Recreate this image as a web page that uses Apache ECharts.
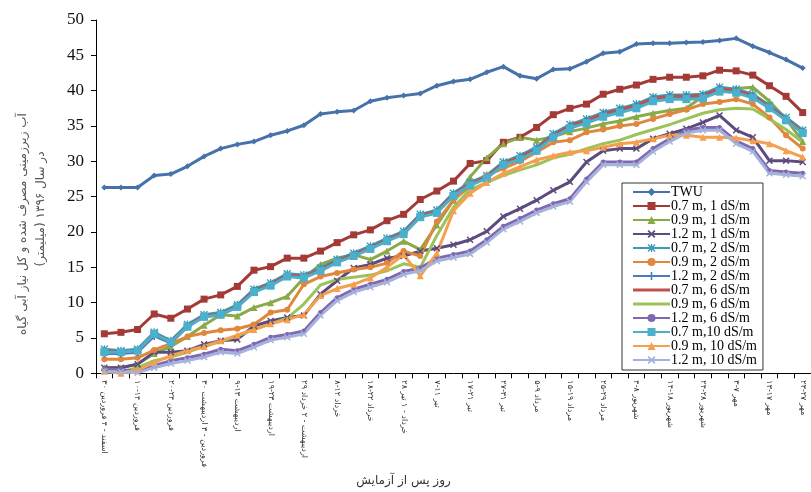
<!DOCTYPE html>
<html><head><meta charset="utf-8">
<script src="https://cdn.jsdelivr.net/npm/echarts@6/dist/echarts.min.js"></script>
<style>html,body{margin:0;padding:0;background:#fff}#c{width:811px;height:492px}</style>
</head><body><div id="c"></div>
<script>
// Period labels (every second 5-day period is labelled)
const periodLabels = [
 "۳۰ اسفند - ۴ فروردین","۱۰-۱۴ فروردین","۲۰-۲۴ فروردین","۳۰ فروردین - ۳ اردیبهشت",
 "۹-۱۳ اردیبهشت","۱۹-۲۳ اردیبهشت","۲۹ اردیبهشت - ۲ خرداد","۸-۱۲ خرداد","۱۸-۲۲ خرداد",
 "۲۸ خرداد - ۱ تیر","۷-۱۱ تیر","۱۷-۲۱ تیر","۲۷-۳۱ تیر","۵-۹ مرداد","۱۵-۱۹ مرداد",
 "۲۵-۲۹ مرداد","۴-۸ شهریور","۱۴-۱۸ شهریور","۲۴-۲۸ شهریور","۳-۷ مهر","۱۳-۱۷ مهر","۲۳-۲۷ مهر"
];
const periods = ["1","2","3","4","5","6","7","8","9","10","11","12","13","14","15","16","17","18","19","20","21","22","23","24","25","26","27","28","29","30","31","32","33","34","35","36","37","38","39","40","41","42","43"];

const yTitle1 = 'آب زیرزمینی مصرف شده و کل نیاز آبی گیاه';
const yTitle2 = '(میلیمتر) در سال ۱۳۹۶';
const xTitle = 'روز پس از آزمایش';

const seriesNames = ["TWU","0.7 m, 1 dS/m","0.9 m, 1 dS/m","1.2 m, 1 dS/m","0.7 m, 2 dS/m","0.9 m, 2 dS/m","1.2 m, 2 dS/m","0.7 m, 6 dS/m","0.9 m, 6 dS/m","1.2 m, 6 dS/m","0.7 m,10 dS/m","0.9 m, 10 dS/m","1.2 m, 10 dS/m"];

const twu   = [26.3,26.3,26.3,28.0,28.2,29.3,30.7,31.8,32.4,32.8,33.7,34.3,35.1,36.7,37.0,37.2,38.5,39.0,39.3,39.6,40.7,41.3,41.6,42.6,43.4,42.1,41.7,43.0,43.1,44.1,45.3,45.5,46.6,46.7,46.7,46.8,46.9,47.1,47.4,46.3,45.4,44.4,43.2];
const m07s1 = [5.6,5.8,6.2,8.4,7.8,9.1,10.5,11.1,12.3,14.6,15.1,16.3,16.3,17.3,18.5,19.6,20.3,21.6,22.5,24.6,25.8,27.2,29.7,30.1,32.7,33.4,34.8,36.6,37.5,38.1,39.5,40.2,40.8,41.6,41.9,41.9,42.1,42.9,42.8,42.2,40.7,39.2,36.9];
const m09s1 = [0.8,0.8,1.3,2.8,3.8,5.2,6.8,8.3,8.1,9.3,10.0,10.9,13.5,15.4,16.3,16.8,16.1,17.3,18.7,17.5,21.0,24.5,27.8,30.5,32.5,33.4,33.0,33.5,34.2,34.7,35.3,35.7,36.3,36.8,37.2,37.5,39.2,39.8,40.3,40.5,38.5,36.0,32.8];
const m12s1 = [0.8,0.8,1.3,3.0,3.0,3.2,4.1,4.6,4.8,6.7,7.4,7.9,8.2,11.2,13.1,14.9,15.4,16.3,16.6,17.3,17.7,18.2,18.9,20.1,22.2,23.3,24.5,25.9,27.1,29.9,31.5,31.8,31.8,33.2,33.9,34.6,35.5,36.5,34.4,33.4,30.1,30.1,29.9];
const m07s2 = [3.4,3.2,3.4,5.8,4.6,6.9,8.3,8.6,9.7,11.9,12.8,14.1,13.9,14.9,16.1,17.0,18.0,19.1,20.1,22.5,23.1,25.5,27.0,28.0,29.9,30.8,32.0,33.9,35.2,36.0,36.9,37.5,38.1,39.1,39.4,39.4,39.5,40.5,40.2,39.5,37.9,36.2,34.4];
const m09s2 = [2.0,2.0,2.2,3.3,4.2,5.2,5.7,6.1,6.3,6.9,8.6,9.0,12.6,13.7,14.2,14.7,15.0,15.6,17.3,16.6,21.5,24.5,26.5,28.0,29.0,30.0,31.3,32.7,33.0,34.1,34.5,35.0,35.3,36.0,36.7,37.3,38.1,38.4,38.8,38.1,36.2,33.7,31.8];
const m12s2 = [2.8,2.8,3.0,5.3,4.3,6.6,8.0,8.3,9.4,11.6,12.5,13.8,13.6,14.6,15.8,16.7,17.7,18.8,19.8,22.2,22.8,25.2,26.7,27.7,29.6,30.5,31.7,33.6,34.9,35.7,36.6,37.2,37.8,38.8,39.1,39.1,39.2,40.2,39.9,39.2,37.6,35.9,34.1];
const m07s6 = [3.2,3.0,3.2,5.6,4.5,6.7,8.1,8.4,9.5,11.7,12.6,13.9,13.7,14.7,15.9,16.8,17.8,18.9,19.9,22.3,22.9,25.3,26.8,27.8,29.7,30.6,31.8,33.7,35.0,35.8,36.7,37.3,37.9,38.9,39.2,39.2,39.3,40.3,40.0,39.3,37.7,36.0,34.2];
const m09s6 = [0.2,0.2,0.8,1.8,2.3,3.0,3.8,4.5,5.3,6.2,7.0,7.8,9.8,12.5,13.3,13.6,13.9,14.5,15.5,15.0,19.5,23.5,26.0,27.0,28.0,28.8,29.5,30.5,31.0,31.8,32.5,33.0,33.8,34.5,35.2,36.0,36.8,37.3,37.5,37.4,36.0,34.5,32.7];
const m12s6 = [0.6,0.5,0.3,1.1,1.8,2.2,2.7,3.4,3.2,4.1,5.1,5.5,6.0,8.6,10.7,11.9,12.6,13.3,14.4,14.9,16.3,16.8,17.3,18.9,20.8,21.9,23.1,24.0,24.7,27.5,29.9,29.9,29.9,31.8,33.2,34.4,34.8,34.8,32.9,31.8,28.7,28.5,28.3];
const m07s10= [3.0,3.0,3.2,5.6,4.4,6.6,8.0,8.3,9.4,11.5,12.4,13.7,13.5,14.5,15.7,16.6,17.6,18.7,19.7,22.1,22.7,25.1,26.6,27.6,29.5,30.3,31.5,33.4,34.7,35.4,36.3,36.9,37.5,38.5,38.8,38.8,38.9,39.9,39.7,39.0,37.5,35.8,34.0];
const m09s10= [0.3,0.0,0.5,1.5,2.5,3.2,3.8,4.6,5.4,6.2,7.0,7.6,8.3,11.0,12.0,12.6,13.5,15.0,16.8,13.8,17.0,23.0,25.5,27.0,28.3,29.2,30.2,30.8,31.3,31.5,32.0,32.5,32.7,33.2,33.7,33.7,33.4,33.4,33.3,32.9,32.5,31.5,30.6];
const m12s10= [0.3,0.2,0.1,0.8,1.4,1.8,2.3,3.0,2.8,3.7,4.7,5.1,5.6,8.2,10.3,11.5,12.2,12.9,14.0,14.5,15.9,16.4,16.9,18.5,20.4,21.5,22.7,23.6,24.3,27.1,29.5,29.5,29.5,31.4,32.8,34.0,34.4,34.4,32.5,31.4,28.3,28.1,27.9];

const allData = [twu,m07s1,m09s1,m12s1,m07s2,m09s2,m12s2,m07s6,m09s6,m12s6,m07s10,m09s10,m12s10];
const colors = ['#4672AA','#A33A36','#8AAA48','#5E4B7E','#3C9BB4','#E0873D','#4A7DBA','#C0504D','#9BC35A','#7F68B0','#4BB0CC','#F5A04F','#A4B2DC'];
const xPath = 'path://M0,1.5L1.5,0L5,3.5L8.5,0L10,1.5L6.5,5L10,8.5L8.5,10L5,6.5L1.5,10L0,8.5L3.5,5Z';
const starPath = 'path://M4.2,0H5.8V4.2H10V5.8H5.8V10H4.2V5.8H0V4.2H4.2Z M0,1.2L1.2,0L5,3.8L8.8,0L10,1.2L6.2,5L10,8.8L8.8,10L5,6.2L1.2,10L0,8.8L3.8,5Z';
const plusPath = 'path://M4,0H6V4H10V6H6V10H4V6H0V4H4Z';
const barPath = 'path://M0,0H37V3H0Z';
const symbols = ['diamond','rect','triangle',xPath,starPath,'circle',plusPath,'none','none','circle','rect','triangle',xPath];
const symSizes = [6,7,7,7,8,6,8,0,0,5,8,7,7];

const chart = echarts.init(document.getElementById('c'), null, {renderer:'canvas'});
const series = seriesNames.map((n,i)=>({
  name:n, type:'line', data:allData[i], symbol:symbols[i], symbolSize:symSizes[i],
  showSymbol: symbols[i] !== 'none',
  lineStyle:{width:3,color:colors[i]}, itemStyle:{color:colors[i]},
  emphasis:{disabled:true}, animation:false
}));
const legendData = seriesNames.map((n,i)=> symbols[i]==='none' ? {name:n, icon:barPath} : {name:n});
chart.setOption({
  animation:false,
  grid:{left:96,right:-7,top:20,bottom:116,containLabel:false},
  legend:{
    orient:'vertical', left:622, top:183, data:legendData, symbolKeepAspect:true,
    backgroundColor:'#fff', borderColor:'#333', borderWidth:1,
    padding:[2,6,3,10], itemWidth:37, itemHeight:10, itemGap:0,
    textStyle:{fontFamily:'Liberation Serif',fontSize:14,color:'#000',lineHeight:13.4,padding:[0,0,0,-4]}
  },
  graphic:[
    {type:'text', x:23, y:224, rotation:Math.PI/2, silent:true,
     style:{text:yTitle1, font:'12px "DejaVu Sans"', fill:'#555', align:'center', verticalAlign:'middle'}},
    {type:'text', x:41, y:209, rotation:Math.PI/2, silent:true,
     style:{text:yTitle2, font:'12px "DejaVu Sans"', fill:'#555', align:'center', verticalAlign:'middle'}}
  ],
  xAxis:{
    type:'category', data:periods, boundaryGap:true,
    name:xTitle, nameLocation:'middle', nameGap:94,
    nameTextStyle:{fontFamily:'DejaVu Sans',fontSize:12,color:'#333',padding:[0,100,0,0]},
    axisLine:{lineStyle:{color:'#000',width:1}},
    axisTick:{show:true,interval:0,length:5,lineStyle:{color:'#000'}},
    axisLabel:{interval:1,rotate:-90,margin:7,fontFamily:'DejaVu Sans',fontSize:8,color:'#333',
      formatter:(v,idx)=> (idx%2===0 ? (periodLabels[idx/2]||'') : '')}
  },
  yAxis:{
    type:'value', min:0, max:50, interval:5,
    axisLine:{show:true,lineStyle:{color:'#000',width:1}},
    axisTick:{show:true,length:5,lineStyle:{color:'#000'}},
    splitLine:{show:false},
    axisLabel:{fontFamily:'Liberation Serif',fontSize:17,color:'#111',margin:12}
  },
  series: series
});
</script></body></html>
